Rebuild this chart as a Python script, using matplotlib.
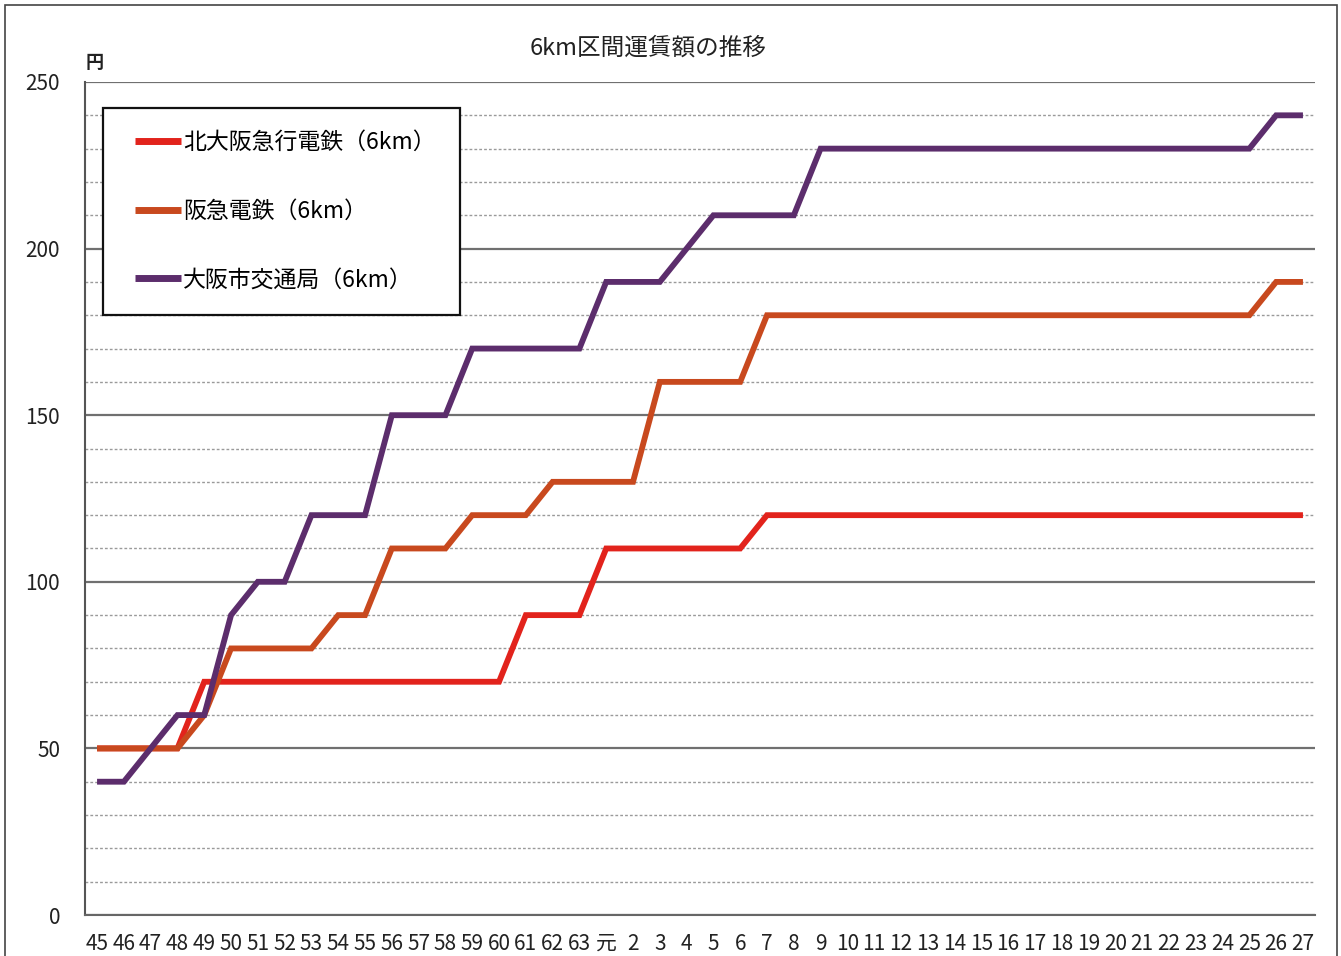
import matplotlib
matplotlib.use("Agg")
import matplotlib.pyplot as plt
from matplotlib.patches import Rectangle
from matplotlib.ticker import MultipleLocator

plt.rcParams['font.family'] = ['Noto Sans CJK JP', 'DejaVu Sans']

years = ['45', '46', '47', '48', '49', '50', '51', '52', '53', '54', '55', '56', '57',
         '58', '59', '60', '61', '62', '63', '元', '2', '3', '4', '5', '6', '7', '8',
         '9', '10', '11', '12', '13', '14', '15', '16', '17', '18', '19', '20', '21',
         '22', '23', '24', '25', '26', '27']

kita_osaka = [50, 50, 50, 50, 70, 70, 70, 70, 70, 70, 70, 70, 70, 70, 70, 70,
              90, 90, 90, 110, 110, 110, 110, 110, 110, 120, 120, 120, 120, 120,
              120, 120, 120, 120, 120, 120, 120, 120, 120, 120, 120, 120, 120,
              120, 120, 120]
hankyu = [50, 50, 50, 50, 60, 80, 80, 80, 80, 90, 90, 110, 110, 110, 120, 120,
          120, 130, 130, 130, 130, 160, 160, 160, 160, 180, 180, 180, 180, 180,
          180, 180, 180, 180, 180, 180, 180, 180, 180, 180, 180, 180, 180, 180,
          190, 190]
osaka_city = [40, 40, 50, 60, 60, 90, 100, 100, 120, 120, 120, 150, 150, 150,
              170, 170, 170, 170, 170, 190, 190, 190, 200, 210, 210, 210, 210,
              230, 230, 230, 230, 230, 230, 230, 230, 230, 230, 230, 230, 230,
              230, 230, 230, 230, 240, 240]

series_names = ['北大阪急行電鉄（6km）', '阪急電鉄（6km）', '大阪市交通局（6km）']
series_values = [kita_osaka, hankyu, osaka_city]
series_colors = ['#E2231C', '#C8491E', '#5C2D6C']

fig = plt.figure(figsize=(13.41, 9.56), dpi=100)
ax = fig.add_axes([85 / 1341, 1 - 915 / 956, (1315 - 85) / 1341, (915 - 82) / 956])

x = list(range(len(years)))
for name, vals, col in zip(series_names, series_values, series_colors):
    ax.plot(x, vals, color=col, lw=4.2, label=name, solid_joinstyle='miter',
            solid_capstyle='butt', zorder=3)

ax.set_xlim(-0.45, len(years) - 1 + 0.45)
ax.set_ylim(0, 250)
ax.yaxis.set_major_locator(MultipleLocator(50))
ax.yaxis.set_minor_locator(MultipleLocator(10))
ax.grid(which='major', axis='y', color='#707070', lw=1.6, zorder=1)
ax.grid(which='minor', axis='y', color='#9a9a9a', lw=1.0, ls=(0, (2, 1.5)), zorder=1)
ax.set_xticks(x)
ax.set_xticklabels(years, fontsize=15, color='#222222')
ax.tick_params(axis='x', length=0, pad=13)
ax.tick_params(axis='y', which='both', length=0, pad=18, labelsize=15,
               labelcolor='#222222')
for s in ['top', 'right']:
    ax.spines[s].set_visible(False)
ax.spines['left'].set_color('#555555')
ax.spines['left'].set_linewidth(1.5)
ax.spines['bottom'].set_color('#666666')
ax.spines['bottom'].set_linewidth(1.5)

# legend box
ax.add_patch(Rectangle((0.0146, 0.7203), 0.290, 0.2485, transform=ax.transAxes,
                       facecolor='white', edgecolor='#111111', lw=1.6, zorder=4))
leg = ax.legend(loc='center left', bbox_to_anchor=(0.0407, 0.845), fontsize=16.5,
                frameon=False, labelspacing=2.0, borderpad=0, handlelength=2.0,
                handletextpad=0.1, borderaxespad=0)
leg.set_zorder(5)
for h in leg.get_lines():
    h.set_linewidth(5)

fig.text(648 / 1341, 1 - 48 / 956, '6km区間運賃額の推移', ha='center', va='center',
         fontsize=17, color='#222222')
fig.text(95 / 1341, 1 - 63 / 956, '円', ha='center', va='center', fontsize=13,
         fontweight='bold', color='#222222')

fig.patches.append(Rectangle((5 / 1341, -0.01), (1337 - 5) / 1341, 1 - 5 / 956 + 0.01,
                             transform=fig.transFigure, fill=False,
                             edgecolor='#444444', lw=1.2))

fig.savefig('out.png', dpi=100)
